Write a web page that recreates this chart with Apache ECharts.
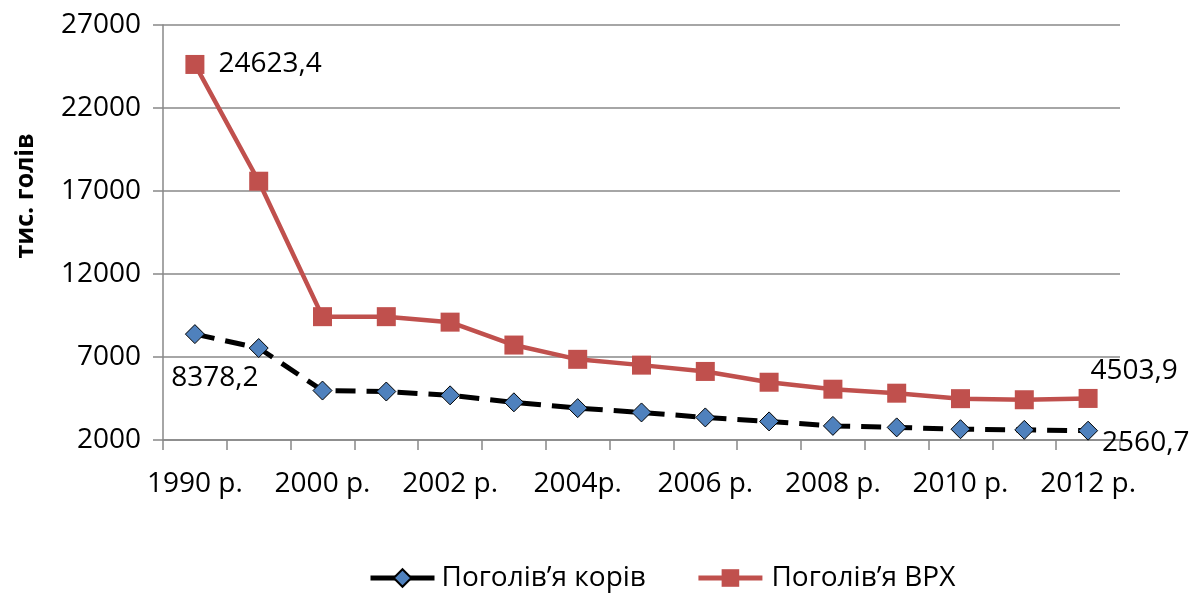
<!DOCTYPE html>
<html>
<head>
<meta charset="utf-8">
<script src="https://cdn.jsdelivr.net/npm/echarts@6/dist/echarts.min.js"></script>
<style>
html,body{margin:0;padding:0;background:#fff;}
#chart{width:1204px;height:595px;}
</style>
</head>
<body>
<div id="chart"></div>
<script>
const categories = ['1990 р.', '1995 р.', '2000 р.', '2001 р.', '2002 р.', '2003 р.', '2004р.', '2005 р.', '2006 р.', '2007 р.', '2008 р.', '2009 р.', '2010 р.', '2011 р.', '2012 р.'];
const cows = [8378.2, 7540, 4980, 4920, 4690, 4270, 3920, 3660, 3360, 3120, 2850, 2760, 2650, 2610, 2560.7];
const cattle = [24623.4, 17590, 9430, 9430, 9100, 7720, 6860, 6510, 6130, 5480, 5060, 4820, 4490, 4425, 4503.9];
const yTicks = { min: 2000, max: 27000, interval: 5000 };
const seriesNames = ['Поголів’я корів', 'Поголів’я ВРХ'];
const yAxisTitle = 'тис. голів';

const FONT = 'Open Sans';
const FS = 28;
const fmt = v => String(v).replace('.', ',');

const chart = echarts.init(document.getElementById('chart'), null, { renderer: 'canvas' });
chart.setOption({
  animation: false,
  backgroundColor: '#fff',
  textStyle: { fontFamily: FONT },
  grid: { left: 163, right: 84, top: 25, bottom: 155, containLabel: false },
  legend: {
    top: 559,
    left: 363,
    itemWidth: 64,
    itemHeight: 22,
    itemGap: 50,
    textStyle: { fontFamily: FONT, fontSize: 28, color: '#000' },
    data: [
      { name: seriesNames[0], lineStyle: { type: 'solid', width: 5, color: '#000' }, textStyle: { padding: [0, 0, 0, 2] } },
      { name: seriesNames[1], lineStyle: { type: 'solid', width: 5, color: '#C0504D' }, textStyle: { padding: [0, 0, 0, 4] } }
    ]
  },
  graphic: [{
    type: 'text',
    x: 26, y: 196,
    rotation: Math.PI / 2,
    style: {
      text: yAxisTitle,
      font: 'bold 25px "Open Sans"',
      fill: '#000',
      align: 'center',
      verticalAlign: 'middle'
    }
  }],
  xAxis: {
    type: 'category',
    data: categories,
    boundaryGap: true,
    axisLine: { lineStyle: { color: '#888', width: 1.5 } },
    axisTick: { show: true, interval: 0, length: 10, lineStyle: { color: '#888', width: 1.5 } },
    axisLabel: { interval: 1, margin: 30, fontSize: FS, color: '#000', fontFamily: FONT }
  },
  yAxis: {
    type: 'value',
    min: yTicks.min, max: yTicks.max, interval: yTicks.interval,
    axisLine: { show: true, lineStyle: { color: '#888', width: 1.5 } },
    axisTick: { show: true, length: 10, lineStyle: { color: '#888', width: 1.5 } },
    splitLine: { show: true, lineStyle: { color: '#888', width: 1.5 } },
    axisLabel: { margin: 22, fontSize: FS, color: '#000', fontFamily: FONT, formatter: v => String(v) }
  },
  series: [
    {
      name: seriesNames[0],
      type: 'line',
      data: cows.map((v, i) => {
        const d = { value: v };
        if (i === 0) d.label = { show: true, position: 'bottom', distance: 20, offset: [20, 0], formatter: p => fmt(p.value) };
        if (i === cows.length - 1) d.label = { show: true, position: 'right', distance: 4, offset: [0, 12], formatter: p => fmt(p.value) };
        return d;
      }),
      symbol: 'diamond',
      symbolSize: 19,
      lineStyle: { color: '#000', width: 5, type: [20, 11] },
      itemStyle: { color: '#4F81BD', borderColor: '#000', borderWidth: 1 },
      label: { fontSize: FS, color: '#000', fontFamily: FONT },
      z: 3
    },
    {
      name: seriesNames[1],
      type: 'line',
      data: cattle.map((v, i) => {
        const d = { value: v };
        if (i === 0) d.label = { show: true, position: 'right', distance: 14, formatter: p => fmt(p.value) };
        if (i === cattle.length - 1) d.label = { show: true, position: 'top', distance: 4, offset: [46, 0], formatter: p => fmt(p.value) };
        return d;
      }),
      symbol: 'rect',
      symbolSize: 19,
      lineStyle: { color: '#C0504D', width: 4.5 },
      itemStyle: { color: '#C0504D' },
      label: { fontSize: FS, color: '#000', fontFamily: FONT },
      z: 2
    }
  ]
});
</script>
</body>
</html>
